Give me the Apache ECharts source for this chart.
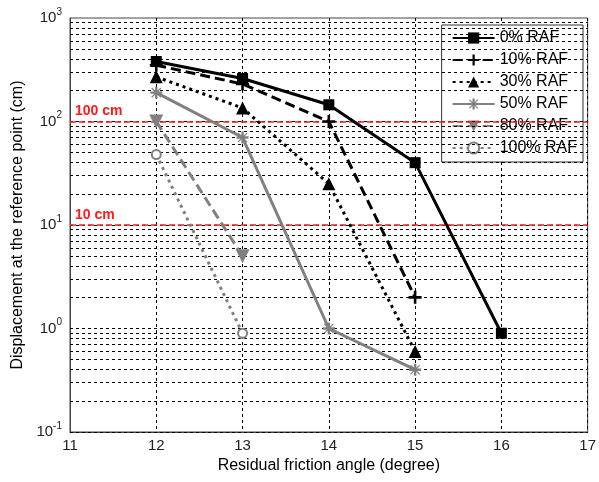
<!DOCTYPE html>
<html>
<head>
<meta charset="utf-8">
<script src="https://cdn.jsdelivr.net/npm/echarts@6/dist/echarts.min.js"></script>
<style>
  html, body { margin: 0; padding: 0; background: #fff; }
  #chart { width: 599px; height: 482px; }
</style>
</head>
<body>
<div id="chart"></div>
<script>
// Residual friction angle (degree)
const angles = [12, 13, 14, 15, 16];

// Displacement at the reference point (cm) per RAF case
const raf0   = [380, 260, 145, 40, 0.9];
const raf10  = [350, 230, 100, 2];
const raf30  = [270, 135, 25, 0.6];
const raf50  = [190, 70, 1.0, 0.4];
const raf80  = [100, 5];
const raf100 = [48, 0.9];

const seriesNames = ['0% RAF', '10% RAF', '30% RAF', '50% RAF', '80% RAF', '100% RAF'];

// Reference displacement thresholds
const thresholds = [100, 10];
const thresholdLabels = ['100 cm', '10 cm'];

function pairs(vals) {
  return vals.map((v, i) => [angles[i], v]);
}

// log-grid lines at 1..9 x 10^k
const gridLines = [];
for (let k = -1; k <= 2; k++) {
  for (let m = 1; m <= 9; m++) {
    gridLines.push({ yAxis: m * Math.pow(10, k) });
  }
}

const plusPath = 'path://M4,0 H6 V4 H10 V6 H6 V10 H4 V6 H0 V4 H4 Z';
const starPath = 'path://M4,0 H6 V4 H10 V6 H6 V10 H4 V6 H0 V4 H4 Z M1.5,0.8 L5,4.3 L8.5,0.8 L9.2,1.5 L5.7,5 L9.2,8.5 L8.5,9.2 L5,5.7 L1.5,9.2 L0.8,8.5 L4.3,5 L0.8,1.5 Z';
const downTri = 'path://M0,0 L10,0 L5,9 Z';

const BLACK = '#000';
const GRAY = '#808080';
const FONT = 'Liberation Sans, Arial, sans-serif';

function lineSeries(name, vals, color, dash, symbol, size, extra) {
  return Object.assign({
    name: name,
    type: 'line',
    data: pairs(vals),
    symbol: symbol,
    symbolSize: size,
    lineStyle: { color: color, width: 3, type: dash },
    itemStyle: { color: color },
    z: 5
  }, extra || {});
}

const chart = echarts.init(document.getElementById('chart'));

const option = {
  animation: false,
  textStyle: { fontFamily: FONT },
  grid: {
    left: 70, right: 7, top: 18, bottom: 50,
    show: true, borderColor: '#444', borderWidth: 1, backgroundColor: '#fff'
  },
  legend: {
    orient: 'vertical',
    right: 16,
    top: 25,
    data: seriesNames,
    backgroundColor: '#fff',
    borderColor: '#333',
    borderWidth: 1,
    padding: [5, 6, 6, 10],
    itemWidth: 42,
    itemHeight: 14,
    itemGap: 6,
    textStyle: { fontSize: 16, color: '#000', fontFamily: FONT }
  },
  xAxis: {
    type: 'value',
    min: 11, max: 17, interval: 1,
    name: 'Residual friction angle (degree)',
    nameLocation: 'middle',
    nameGap: 26,
    nameTextStyle: { fontSize: 16, color: '#000' },
    axisLine: { show: true, lineStyle: { color: '#444' } },
    axisTick: { show: false },
    axisLabel: { fontSize: 15, color: '#222', margin: 6 },
    splitLine: { show: true, lineStyle: { color: '#000', type: [3, 3], width: 1 } }
  },
  yAxis: {
    type: 'log',
    logBase: 10,
    min: 0.1, max: 1000,
    name: 'Displacement at the reference point (cm)',
    nameLocation: 'middle',
    nameGap: 40,
    nameTextStyle: { fontSize: 16, color: '#000' },
    axisLine: { show: true, lineStyle: { color: '#444' } },
    axisTick: { show: false },
    splitLine: { show: false },
    axisLabel: {
      margin: 8,
      formatter: function (v) {
        const e = Math.round(Math.log10(v));
        return '{b|10}{s|' + e + '}';
      },
      rich: {
        b: { fontSize: 15, color: '#222' },
        s: { fontSize: 10, color: '#222', padding: [0, 0, 12, 0] }
      }
    }
  },
  series: [
    {
      name: 'grid',
      type: 'line',
      data: [],
      silent: true,
      z: 1,
      markLine: {
        silent: true,
        symbol: 'none',
        animation: false,
        label: { show: false },
        lineStyle: { color: '#000', type: [3, 3], width: 1 },
        data: gridLines
      }
    },
    {
      name: 'thresholds',
      type: 'line',
      data: [],
      silent: true,
      z: 3,
      markLine: {
        silent: true,
        symbol: 'none',
        animation: false,
        lineStyle: { color: '#ff1a1a', type: [6, 3], width: 1.5 },
        label: {
          show: true,
          position: 'insideStartTop',
          color: '#ff1a1a',
          fontSize: 14,
          fontWeight: 'bold',
          distance: [5, 3]
        },
        data: thresholds.map((t, i) => ({ yAxis: t, label: { formatter: thresholdLabels[i] } }))
      }
    },
    lineSeries(seriesNames[0], raf0, BLACK, 'solid', 'rect', 11),
    lineSeries(seriesNames[1], raf10, BLACK, [10, 5], plusPath, 13),
    lineSeries(seriesNames[2], raf30, BLACK, [3, 4], 'triangle', 13),
    lineSeries(seriesNames[3], raf50, GRAY, 'solid', starPath, 12),
    lineSeries(seriesNames[4], raf80, GRAY, [10, 5], downTri, 14),
    lineSeries(seriesNames[5], raf100, GRAY, [3, 4], 'emptyCircle', 9, {
      itemStyle: { color: GRAY, borderColor: GRAY, borderWidth: 2.5 }
    })
  ]
};

chart.setOption(option);
</script>
</body>
</html>
